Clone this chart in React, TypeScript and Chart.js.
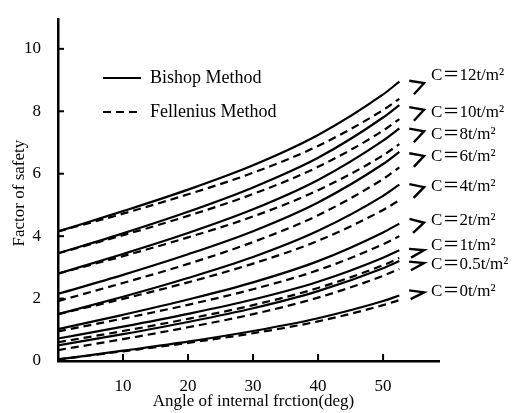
import React, { useEffect, useRef } from "react";
import { Chart, registerables } from "chart.js";

Chart.register(...registerables);

// Angle of internal friction (deg) at which each curve is sampled
const angles = [0, 10, 20, 30, 40, 50, 52.5];

// Cohesion cases, top to bottom
const cohesionLabels = [
  "C＝12t/m²",
  "C＝10t/m²",
  "C＝8t/m²",
  "C＝6t/m²",
  "C＝4t/m²",
  "C＝2t/m²",
  "C＝1t/m²",
  "C＝0.5t/m²",
  "C＝0t/m²",
];

// Factor of safety, Bishop method
const bishopC12 = [4.15, 4.8, 5.49, 6.27, 7.24, 8.54, 8.95];
const bishopC10 = [3.45, 4.09, 4.78, 5.56, 6.51, 7.8, 8.2];
const bishopC8 = [2.8, 3.43, 4.1, 4.86, 5.8, 7.06, 7.45];
const bishopC6 = [2.15, 2.76, 3.42, 4.16, 5.08, 6.31, 6.7];
const bishopC4 = [1.5, 2.06, 2.66, 3.33, 4.17, 5.29, 5.65];
const bishopC2 = [1.02, 1.48, 1.97, 2.52, 3.2, 4.12, 4.4];
const bishopC1 = [0.72, 1.1, 1.51, 1.97, 2.54, 3.31, 3.55];
const bishopC05 = [0.5, 0.86, 1.25, 1.69, 2.24, 2.97, 3.2];
const bishopC0 = [0.05, 0.33, 0.62, 0.96, 1.37, 1.92, 2.1];

// Factor of safety, Fellenius method
const felleniusC12 = [4.15, 4.72, 5.34, 6.03, 6.89, 8.04, 8.4];
const felleniusC10 = [3.45, 4.03, 4.65, 5.35, 6.22, 7.38, 7.75];
const felleniusC8 = [2.8, 3.36, 3.96, 4.63, 5.47, 6.59, 6.95];
const felleniusC6 = [1.92, 2.5, 3.11, 3.81, 4.67, 5.83, 6.2];
const felleniusC4 = [1.5, 1.99, 2.52, 3.12, 3.85, 4.84, 5.15];
const felleniusC2 = [0.95, 1.36, 1.8, 2.3, 2.91, 3.74, 4.0];
const felleniusC1 = [0.6, 0.96, 1.35, 1.79, 2.34, 3.07, 3.3];
const felleniusC05 = [0.35, 0.7, 1.08, 1.5, 2.03, 2.73, 2.95];
const felleniusC0 = [0.05, 0.31, 0.58, 0.89, 1.27, 1.79, 1.95];

const bishopSeries = [bishopC12, bishopC10, bishopC8, bishopC6, bishopC4, bishopC2, bishopC1, bishopC05, bishopC0];
const felleniusSeries = [felleniusC12, felleniusC10, felleniusC8, felleniusC6, felleniusC4, felleniusC2, felleniusC1, felleniusC05, felleniusC0];

// Levels (factor of safety) where each curve label and its arrow tip sit
const labelLevels = [9.15, 7.96, 7.26, 6.54, 5.6, 4.5, 3.71, 3.08, 2.23];
const arrowLevels = [8.9, 8.05, 7.36, 6.57, 5.57, 4.43, 3.55, 3.14, 2.2];
// Opening half-angle (rad) of each arrowhead
const arrowSpread = [0.5, 0.5, 0.5, 0.5, 0.5, 0.5, 0.3, 0.3, 0.3];

const xTicks = [10, 20, 30, 40, 50];
const yTicks = [2, 4, 6, 8, 10];

const SERIF = '"Liberation Serif", "Times New Roman", "Noto Sans CJK SC", serif';
const DASH = [8, 5];

const toPoints = (vals: number[]) => vals.map((v, i) => ({ x: angles[i], y: v }));

const overlayPlugin = {
  id: "fsOverlay",
  afterDraw(chart: any) {
    const { ctx, chartArea, scales } = chart;
    const xs = scales.x;
    const ys = scales.y;
    ctx.save();
    ctx.strokeStyle = "#000";
    ctx.fillStyle = "#000";

    // inward tick marks
    ctx.lineWidth = 2;
    xTicks.forEach((v) => {
      const px = xs.getPixelForValue(v);
      ctx.beginPath();
      ctx.moveTo(px, chartArea.bottom);
      ctx.lineTo(px, chartArea.bottom - 7);
      ctx.stroke();
    });
    yTicks.forEach((v) => {
      const py = ys.getPixelForValue(v);
      ctx.beginPath();
      ctx.moveTo(chartArea.left, py);
      ctx.lineTo(chartArea.left + 6, py);
      ctx.stroke();
    });

    // axis titles
    ctx.font = `17px ${SERIF}`;
    ctx.textAlign = "center";
    ctx.textBaseline = "middle";
    ctx.fillText("Angle of internal frction(deg)", (chartArea.left + chartArea.right) / 2 + 5, 402);
    ctx.save();
    ctx.translate(20, (chartArea.top + chartArea.bottom) / 2 + 3);
    ctx.rotate(-Math.PI / 2);
    ctx.fillText("Factor of safety", 0, 0);
    ctx.restore();

    // legend
    ctx.font = `18px ${SERIF}`;
    ctx.textAlign = "left";
    ctx.lineWidth = 2.2;
    const legendRows = [
      { text: "Bishop Method", dash: [] as number[], y: 78 },
      { text: "Fellenius Method", dash: DASH, y: 112 },
    ];
    legendRows.forEach((r) => {
      ctx.setLineDash(r.dash);
      ctx.beginPath();
      ctx.moveTo(103, r.y);
      ctx.lineTo(141, r.y);
      ctx.stroke();
      ctx.setLineDash([]);
      ctx.fillText(r.text, 150, r.y);
    });

    // curve labels with arrowheads that follow the curve direction
    ctx.font = `17px ${SERIF}`;
    const tipX = xs.getPixelForValue(56.3);
    cohesionLabels.forEach((lab, i) => {
      const s = bishopSeries[i];
      const n = s.length;
      const dx = xs.getPixelForValue(angles[n - 1]) - xs.getPixelForValue(angles[n - 2]);
      const dy = ys.getPixelForValue(s[n - 1]) - ys.getPixelForValue(s[n - 2]);
      const a = 0.5 * Math.atan2(dy, dx);
      const ty = ys.getPixelForValue(arrowLevels[i]);
      const len = 15;
      const spread = arrowSpread[i];
      ctx.lineWidth = 2.4;
      ctx.beginPath();
      ctx.moveTo(tipX - len * Math.cos(a - spread), ty - len * Math.sin(a - spread));
      ctx.lineTo(tipX, ty);
      ctx.lineTo(tipX - len * Math.cos(a + spread), ty - len * Math.sin(a + spread));
      ctx.stroke();
      ctx.fillText(lab, tipX + 7, ys.getPixelForValue(labelLevels[i]));
    });

    ctx.restore();
  },
};

export default function App() {
  const canvasRef = useRef<HTMLCanvasElement | null>(null);

  useEffect(() => {
    const canvas = canvasRef.current;
    if (!canvas) return;

    const datasets: any[] = [];
    bishopSeries.forEach((s, i) => {
      datasets.push({
        label: `Bishop ${cohesionLabels[i]}`,
        data: toPoints(s),
        borderColor: "#000",
        borderWidth: 2.2,
        pointRadius: 0,
        fill: false,
        cubicInterpolationMode: "monotone",
      });
      datasets.push({
        label: `Fellenius ${cohesionLabels[i]}`,
        data: toPoints(felleniusSeries[i]),
        borderColor: "#000",
        borderWidth: 2.2,
        borderDash: DASH,
        pointRadius: 0,
        fill: false,
        cubicInterpolationMode: "monotone",
      });
    });

    const chart = new Chart(canvas, {
      type: "line",
      data: { datasets },
      options: {
        animation: false,
        responsive: false,
        maintainAspectRatio: false,
        layout: { padding: { left: 0, right: 78, top: 13, bottom: 0 } },
        plugins: { legend: { display: false }, tooltip: { enabled: false } },
        scales: {
          x: {
            type: "linear",
            min: 0,
            max: 58.6,
            grid: { display: false },
            border: { display: true, color: "#000", width: 2.5 },
            ticks: {
              stepSize: 10,
              includeBounds: false,
              padding: 7,
              color: "#000",
              font: { family: SERIF, size: 17 },
              callback: (v: any) => (v === 0 ? "" : String(v)),
            },
            afterFit: (s: any) => {
              s.height = 52;
            },
          },
          y: {
            type: "linear",
            min: 0,
            max: 10.95,
            grid: { display: false },
            border: { display: true, color: "#000", width: 2.5 },
            ticks: {
              stepSize: 2,
              includeBounds: false,
              padding: 9,
              color: "#000",
              font: { family: SERIF, size: 17 },
            },
            afterFit: (s: any) => {
              s.width = 58;
            },
          },
        },
      },
      plugins: [overlayPlugin],
    });

    return () => chart.destroy();
  }, []);

  return (
    <div style={{ position: "absolute", left: 0, top: 0, width: 517, height: 413, background: "#fff" }}>
      <canvas ref={canvasRef} width={517} height={413} style={{ display: "block" }} />
    </div>
  );
}
